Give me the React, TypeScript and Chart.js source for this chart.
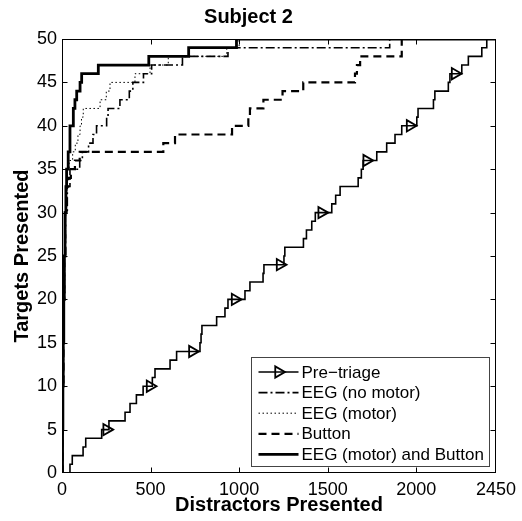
import React, { useEffect, useRef } from "react";
import { Chart, registerables } from "chart.js";

Chart.register(...registerables);

const chartTitle = "Subject 2";
const xAxisTitle = "Distractors Presented";
const yAxisTitle = "Targets Presented";
const xMin = 0;
const xMax = 2450;
const yMin = 0;
const yMax = 50;
const xTickValues = [0, 500, 1000, 1500, 2000, 2450];
const yTickValues = [0, 5, 10, 15, 20, 25, 30, 35, 40, 45, 50];
const seriesNames = ["Pre\u2212triage", "EEG (no motor)", "EEG (motor)", "Button", "EEG (motor) and Button"];

const preTriageX = [0, 45, 58, 119, 134, 224, 265, 356, 384, 420, 458, 510, 525, 610, 647, 779, 785, 790, 873, 920, 937, 1033, 1061, 1135, 1140, 1253, 1258, 1363, 1380, 1410, 1430, 1523, 1545, 1570, 1672, 1690, 1700, 1777, 1833, 1880, 1918, 2003, 2010, 2097, 2105, 2181, 2190, 2257, 2294, 2370, 2398, 2450];
const preTriageY = [0, 1, 2, 3, 4, 5, 6, 7, 8, 9, 10, 11, 12, 13, 14, 15, 16, 17, 18, 19, 20, 21, 22, 23, 24, 25, 26, 27, 28, 29, 30, 31, 32, 33, 34, 35, 36, 37, 38, 39, 40, 41, 42, 43, 44, 45, 46, 47, 48, 49, 50, 50];
const preTriageMarkerX = [252, 497, 736, 977, 1231, 1466, 1720, 1965, 2219];
const preTriageMarkerY = [5, 10, 14, 20, 24, 30, 36, 40, 46];

const eegNoMotorX = [0, 3, 5, 8, 10, 14, 20, 30, 45, 100, 115, 150, 175, 195, 252, 260, 327, 380, 400, 460, 506, 680, 937, 1850, 2450];
const eegNoMotorY = [0, 5, 10, 15, 20, 25, 30, 33, 35, 36, 37, 38, 39, 40, 41, 42, 43, 44, 45, 46, 47, 48, 49, 50, 50];

const eegMotorX = [0, 2, 4, 6, 8, 11, 15, 20, 28, 40, 60, 75, 90, 102, 110, 120, 215, 250, 271, 412, 497, 600, 930, 1000, 2450];
const eegMotorY = [0, 5, 10, 15, 20, 25, 30, 33, 35, 36, 37, 38, 39, 40, 41, 42, 43, 44, 45, 46, 47, 48, 49, 50, 50];

const buttonX = [0, 3, 5, 8, 10, 13, 18, 25, 35, 50, 73, 100, 572, 638, 960, 1052, 1061, 1137, 1245, 1362, 1654, 1665, 1683, 1918, 2450];
const buttonY = [0, 5, 10, 15, 20, 25, 30, 33, 34, 35, 36, 37, 38, 39, 40, 41, 42, 43, 44, 45, 46, 47, 48, 50, 50];

const bothX = [0, 3, 5, 7, 10, 13, 17, 22, 26, 35, 45, 64, 73, 83, 102, 111, 205, 490, 715, 985, 2450];
const bothY = [0, 5, 10, 15, 20, 25, 30, 33, 35, 37, 40, 42, 43, 44, 45, 46, 47, 48, 49, 50, 50];

const FONT = "'Liberation Sans', Arial, Helvetica, sans-serif";

type Style = { width: number; dash: number[]; marker?: boolean };
const seriesStyles: Style[] = [
  { width: 1.6, dash: [], marker: true },
  { width: 1.6, dash: [9, 3, 2, 3] },
  { width: 1, dash: [1.5, 2.5] },
  { width: 2.2, dash: [8, 5] },
  { width: 2.8, dash: [] },
];

function drawTriangle(ctx: CanvasRenderingContext2D, x: number, y: number, r: number) {
  ctx.beginPath();
  ctx.moveTo(x + r, y);
  ctx.lineTo(x - r / 2, y - (r * Math.sqrt(3)) / 2);
  ctx.lineTo(x - r / 2, y + (r * Math.sqrt(3)) / 2);
  ctx.closePath();
  ctx.stroke();
}

export default function App() {
  const ref = useRef<HTMLCanvasElement>(null);
  useEffect(() => {
    const canvas = ref.current;
    if (!canvas) return;
    const mk = (xs: number[], ys: number[]) => xs.map((x, i) => ({ x, y: ys[i] }));

    const boxPlugin = {
      id: "matlabBox",
      afterDatasetsDraw(chart: any) {
        const { ctx, chartArea: a, scales } = chart;
        ctx.save();
        ctx.strokeStyle = "#000";
        ctx.lineWidth = 1;
        const l = Math.round(a.left) + 0.5;
        const t = Math.round(a.top) + 0.5;
        const r = Math.round(a.right) - 0.5;
        const b = Math.round(a.bottom) - 0.5;
        ctx.strokeRect(l, t, r - l, b - t);
        const L = 5;
        ctx.beginPath();
        xTickValues.forEach((v) => {
          if (v <= xMin || v >= xMax) return;
          const px = Math.round(scales.x.getPixelForValue(v)) + 0.5;
          ctx.moveTo(px, b);
          ctx.lineTo(px, b - L);
          ctx.moveTo(px, t);
          ctx.lineTo(px, t + L);
        });
        yTickValues.forEach((v) => {
          if (v <= yMin || v >= yMax) return;
          const py = Math.round(scales.y.getPixelForValue(v)) + 0.5;
          ctx.moveTo(l, py);
          ctx.lineTo(l + L, py);
          ctx.moveTo(r, py);
          ctx.lineTo(r - L, py);
        });
        ctx.stroke();
        ctx.restore();
      },
    };

    const legendPlugin = {
      id: "insetLegend",
      afterDraw(chart: any) {
        const { ctx, chartArea: a } = chart;
        const right = Math.round(a.right) - 6.5;
        const bottom = Math.round(a.bottom) - 6.5;
        const w = 238;
        const h = 109;
        const left = right - w;
        const top = bottom - h;
        ctx.save();
        ctx.fillStyle = "#fff";
        ctx.fillRect(left, top, w, h);
        ctx.strokeStyle = "#444";
        ctx.lineWidth = 1;
        ctx.strokeRect(left, top, w, h);
        ctx.font = `17px ${FONT}`;
        ctx.textBaseline = "middle";
        ctx.textAlign = "left";
        seriesNames.forEach((name, i) => {
          const s = seriesStyles[i];
          const cy = top + 14.5 + i * 20.6;
          ctx.strokeStyle = "#000";
          ctx.lineWidth = s.width;
          ctx.setLineDash(s.dash);
          ctx.beginPath();
          ctx.moveTo(left + 7, cy);
          ctx.lineTo(left + 47, cy);
          ctx.stroke();
          ctx.setLineDash([]);
          if (s.marker) {
            ctx.lineWidth = 1.8;
            drawTriangle(ctx, left + 27, cy, 6.5);
          }
          ctx.fillStyle = "#000";
          ctx.fillText(name, left + 50, cy + 1);
        });
        ctx.restore();
      },
    };

    const lineDs = (label: string, data: any[], s: Style) => ({
      label,
      data,
      borderColor: "#000",
      backgroundColor: "#000",
      borderWidth: s.width,
      borderDash: s.dash,
      stepped: "before" as const,
      pointRadius: 0,
      pointHoverRadius: 0,
      fill: false,
      tension: 0,
    });

    const chart = new Chart(canvas, {
      type: "line",
      data: {
        datasets: [
          lineDs(seriesNames[4], mk(bothX, bothY), seriesStyles[4]),
          lineDs(seriesNames[3], mk(buttonX, buttonY), seriesStyles[3]),
          lineDs(seriesNames[2], mk(eegMotorX, eegMotorY), seriesStyles[2]),
          lineDs(seriesNames[1], mk(eegNoMotorX, eegNoMotorY), seriesStyles[1]),
          lineDs(seriesNames[0], mk(preTriageX, preTriageY), seriesStyles[0]),
          {
            label: "markers",
            data: mk(preTriageMarkerX, preTriageMarkerY),
            showLine: false,
            borderColor: "#000",
            backgroundColor: "rgba(0,0,0,0)",
            pointStyle: "triangle",
            rotation: 90,
            pointRadius: 6.5,
            pointBorderWidth: 1.8,
            pointHoverRadius: 6.5,
          } as any,
        ],
      },
      options: {
        responsive: false,
        animation: false,
        events: [],
        layout: { padding: { left: 0, right: 25, top: 0, bottom: 0 } },
        plugins: {
          legend: { display: false },
          tooltip: { enabled: false },
          title: {
            display: true,
            text: chartTitle,
            color: "#000",
            font: { family: FONT, size: 20, weight: "bold" },
            padding: { top: 5, bottom: 10 },
          },
        },
        scales: {
          x: {
            type: "linear",
            min: xMin,
            max: xMax,
            grid: { display: false, drawTicks: false },
            border: { display: false },
            afterBuildTicks: (scale: any) => {
              scale.ticks = xTickValues.map((v) => ({ value: v }));
            },
            afterFit: (scale: any) => {
              scale.height = 48;
            },
            ticks: {
              color: "#000",
              font: { family: FONT, size: 18 },
              padding: 6,
              maxRotation: 0,
              autoSkip: false,
              callback: (v: any) => String(v),
            },
            title: {
              display: true,
              text: xAxisTitle,
              color: "#000",
              font: { family: FONT, size: 20, weight: "bold" },
              padding: { top: 0, bottom: 4 },
            },
          },
          y: {
            type: "linear",
            min: yMin,
            max: yMax,
            grid: { display: false, drawTicks: false },
            border: { display: false },
            afterBuildTicks: (scale: any) => {
              scale.ticks = yTickValues.map((v) => ({ value: v }));
            },
            afterFit: (scale: any) => {
              scale.width = 62;
            },
            ticks: {
              color: "#000",
              font: { family: FONT, size: 18 },
              padding: 5,
              autoSkip: false,
              callback: (v: any) => String(v),
            },
            title: {
              display: true,
              text: yAxisTitle,
              color: "#000",
              font: { family: FONT, size: 20, weight: "bold" },
              padding: { top: 10, bottom: 0 },
            },
          },
        },
      },
      plugins: [boxPlugin, legendPlugin],
    } as any);
    return () => chart.destroy();
  }, []);

  return (
    <div style={{ position: "fixed", left: 0, top: 0, width: 522, height: 521, background: "#fff" }}>
      <canvas ref={ref} width={522} height={521} style={{ display: "block", width: 522, height: 521 }} />
    </div>
  );
}
